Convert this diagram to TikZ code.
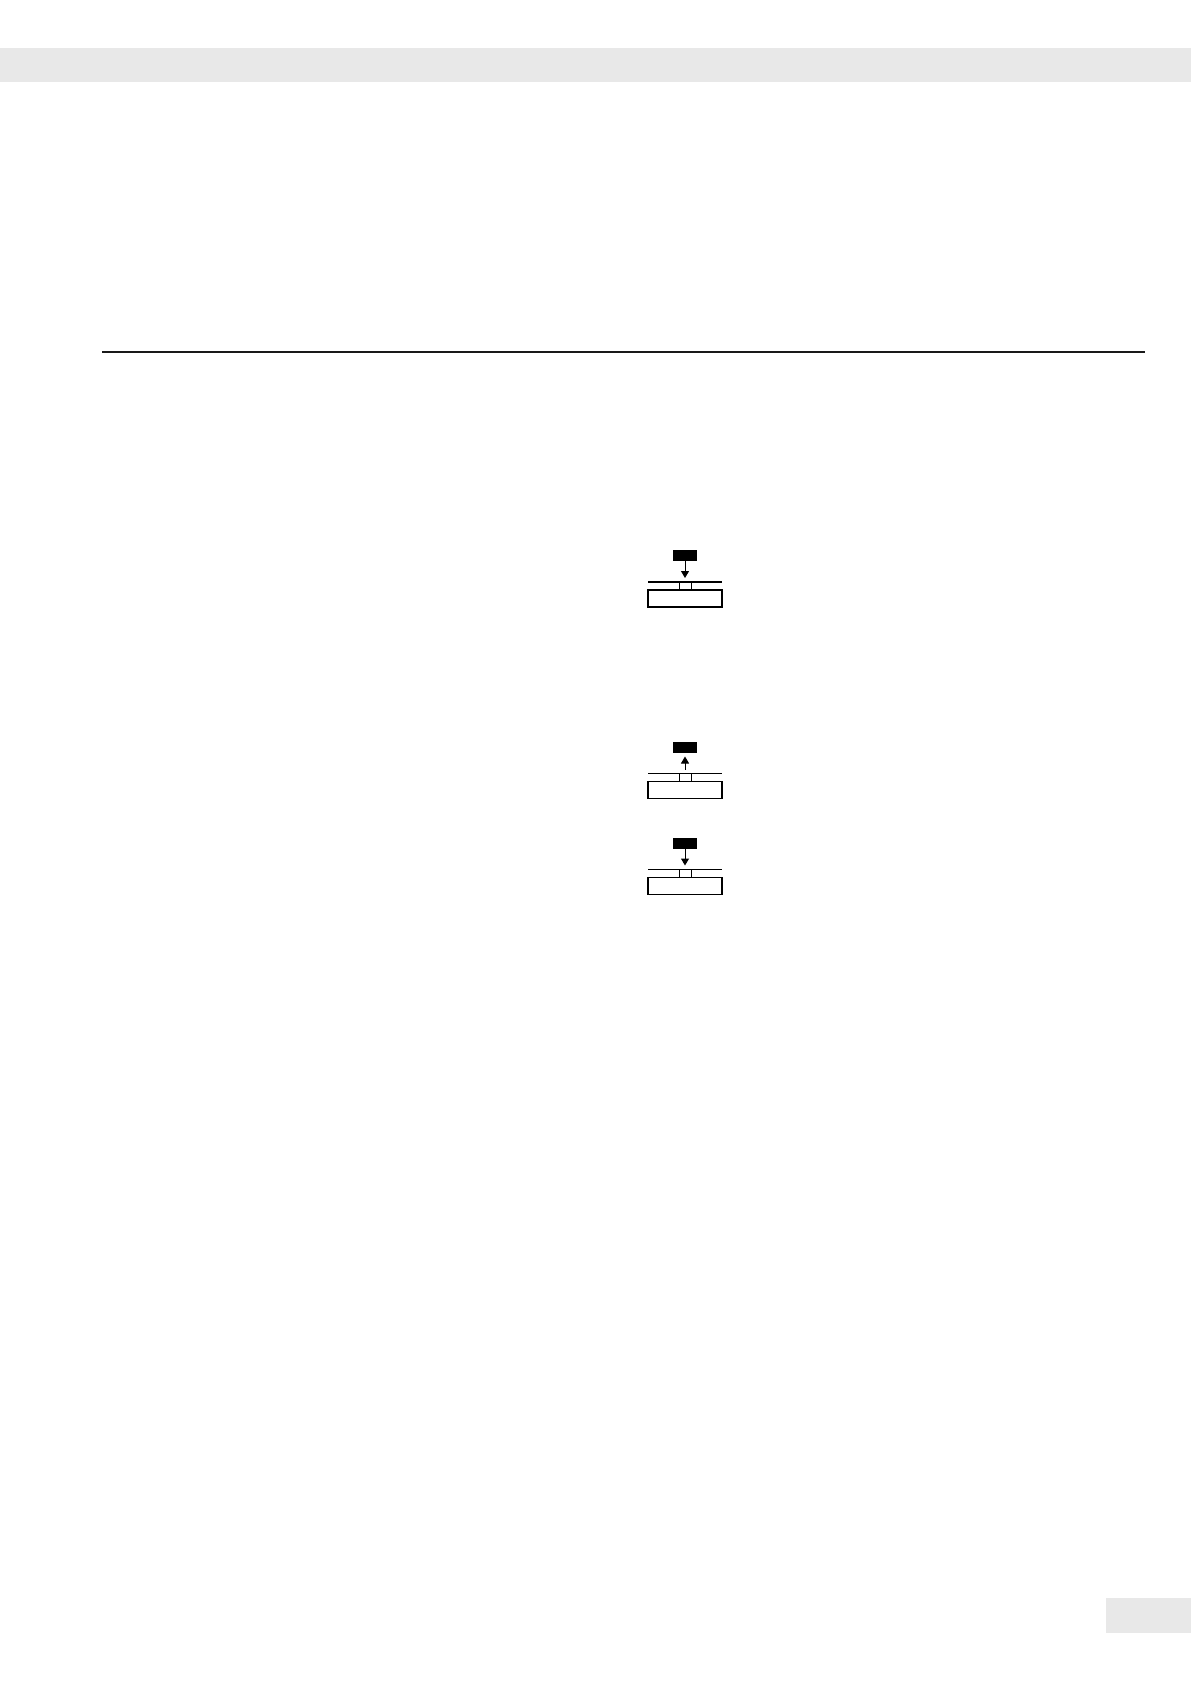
\documentclass[tikz,border=0pt]{standalone}
\usepackage{tikz}
\usetikzlibrary{positioning,arrows.meta}
\definecolor{pagegray}{HTML}{E8E8E8}

\begin{document}
\begin{tikzpicture}[x=0.5pt,y=-0.5pt,
    display/.style={rectangle, draw=black, line width=0.6pt, minimum width=37pt, minimum height=8.5pt, inner sep=0pt, outer sep=0pt},
    keycap/.style={rectangle, fill=black, minimum width=12pt, minimum height=5.5pt, inner sep=0pt, outer sep=0pt},
    tab/.style={rectangle, draw=black, line width=0.5pt, minimum width=6pt, minimum height=4pt, inner sep=0pt, outer sep=0pt},
    rail/.style={line width=0.6pt},
    press/.style={line width=0.5pt, -{Triangle[length=3.5pt,width=4pt]}}]
            \useasboundingbox (0,0) rectangle (1191,1684);
            % page frame
            \fill[pagegray] (0,48) rectangle (1191,82);
            \draw[line width=1pt, black!90] (102,352) -- (1145,352);
            \fill[pagegray] (1106,1598) rectangle (1191,1633);
            % first key, pressed
            \node[display] (disp1) at (685,598.5) {};
            \node[keycap, above=14.5pt of disp1] (key1) {};
            \node[tab, anchor=south] (tab1) at (disp1.north) {};
            \draw[rail] ([yshift=4pt]disp1.north west) -- ([yshift=4pt]disp1.north east);
            \draw[press] (key1.south) -- ([yshift=2pt]tab1.north);
            % second key, released
            \node[display] (disp2) at (685,790) {};
            \node[keycap, above=14.5pt of disp2] (key2) {};
            \node[tab, anchor=south] (tab2) at (disp2.north) {};
            \draw[rail] ([yshift=4pt]disp2.north west) -- ([yshift=4pt]disp2.north east);
            \draw[press] ([yshift=2pt]tab2.north) -- ([yshift=-2pt]key2.south);
            % third key, pressed
            \node[display] (disp3) at (685,886) {};
            \node[keycap, above=14.5pt of disp3] (key3) {};
            \node[tab, anchor=south] (tab3) at (disp3.north) {};
            \draw[rail] ([yshift=4pt]disp3.north west) -- ([yshift=4pt]disp3.north east);
            \draw[press] (key3.south) -- ([yshift=2pt]tab3.north);
        \end{tikzpicture}
\end{document}
